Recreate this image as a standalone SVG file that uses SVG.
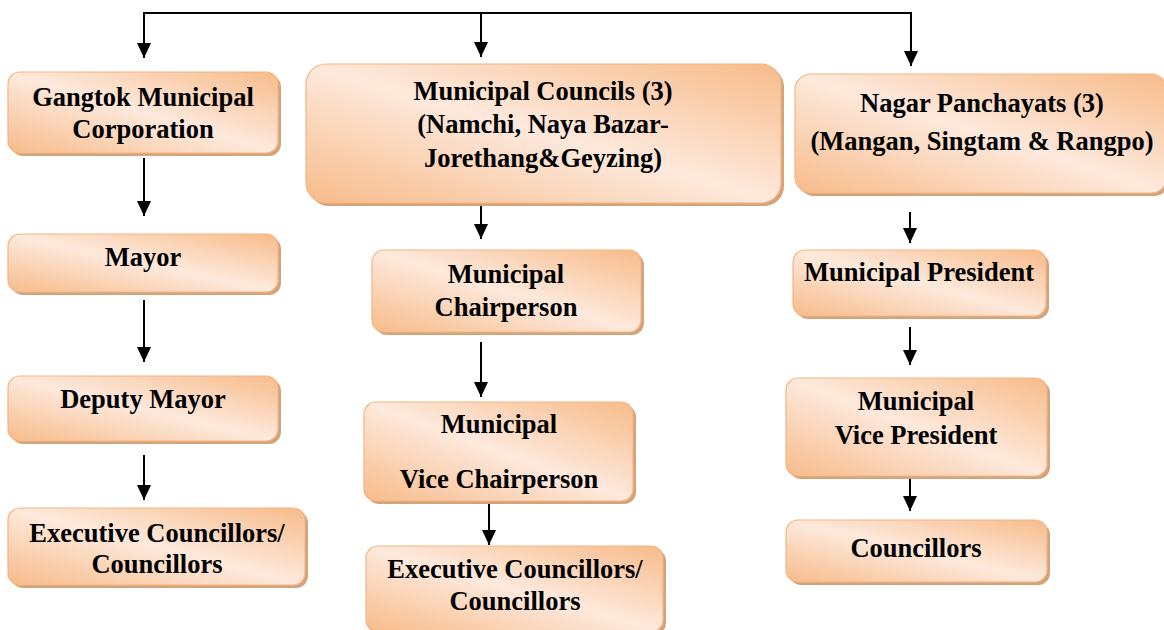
<svg xmlns="http://www.w3.org/2000/svg" width="1164" height="630" viewBox="0 0 1164 630">
<defs>
<linearGradient id="g" x1="0" y1="1" x2="1" y2="0">
<stop offset="0" stop-color="#f7bb8a"/>
<stop offset="0.5" stop-color="#fde9dc"/>
<stop offset="1" stop-color="#f7bb8a"/>
</linearGradient>
<marker id="ah" markerWidth="15" markerHeight="14" refX="15" refY="7" orient="auto-start-reverse" markerUnits="userSpaceOnUse" viewBox="0 0 15 14">
<path d="M0,0 L15,7 L0,14 Z" fill="#000"/>
</marker>
</defs>
<style>
.sh{fill:#d3a47c}
.bx{fill:url(#g);stroke:#f4b584;stroke-width:1.2}
.c{stroke:#000;stroke-width:2;fill:none}
.t{font-family:"Liberation Serif","Times New Roman",serif;font-weight:bold;font-size:26.5px;text-anchor:middle;fill:#000}
</style>
<rect width="1164" height="630" fill="#fff"/>
<g id="connectors">
<path class="c" d="M144,58 V13 H911 V66" marker-start="url(#ah)" marker-end="url(#ah)"/>
<path class="c" d="M481,13 V57" marker-end="url(#ah)"/>
<path class="c" d="M144,158 V216" marker-end="url(#ah)"/>
<path class="c" d="M144,300 V362" marker-end="url(#ah)"/>
<path class="c" d="M144,455 V500" marker-end="url(#ah)"/>
<path class="c" d="M481,203 V239" marker-end="url(#ah)"/>
<path class="c" d="M481,342 V397" marker-end="url(#ah)"/>
<path class="c" d="M489,503 V545" marker-end="url(#ah)"/>
<path class="c" d="M910,212 V243" marker-end="url(#ah)"/>
<path class="c" d="M910,327 V365" marker-end="url(#ah)"/>
<path class="c" d="M910,477 V511" marker-end="url(#ah)"/>
</g>
<g class="t">
<g id="gangtok">
<rect class="sh" x="11" y="75" width="270" height="81" rx="12"/>
<rect class="bx" x="8" y="72" width="270" height="81" rx="12"/>
<text x="143" y="106">Gangtok Municipal</text>
<text x="143" y="138">Corporation</text>
</g>
<g id="mayor">
<rect class="sh" x="11" y="237" width="270" height="58" rx="12"/>
<rect class="bx" x="8" y="234" width="270" height="58" rx="12"/>
<text x="143" y="266">Mayor</text>
</g>
<g id="deputy-mayor">
<rect class="sh" x="11" y="379" width="270" height="65" rx="12"/>
<rect class="bx" x="8" y="376" width="270" height="65" rx="12"/>
<text x="143" y="408">Deputy Mayor</text>
</g>
<g id="exec-left">
<rect class="sh" x="11" y="511" width="297" height="77" rx="12"/>
<rect class="bx" x="8" y="508" width="297" height="77" rx="12"/>
<text x="157" y="542">Executive Councillors/</text>
<text x="157" y="573">Councillors</text>
</g>
<g id="municipal-councils">
<rect class="sh" x="309" y="67" width="475" height="139" rx="20"/>
<rect class="bx" x="306" y="64" width="475" height="139" rx="20"/>
<text x="543" y="100">Municipal Councils (3)</text>
<text x="543" y="133">(Namchi, Naya Bazar-</text>
<text x="543" y="167">Jorethang&amp;Geyzing)</text>
</g>
<g id="chairperson">
<rect class="sh" x="375" y="253" width="269" height="82" rx="12"/>
<rect class="bx" x="372" y="250" width="269" height="82" rx="12"/>
<text x="506" y="283">Municipal</text>
<text x="506" y="316">Chairperson</text>
</g>
<g id="vice-chairperson">
<rect class="sh" x="367" y="405" width="269" height="99" rx="12"/>
<rect class="bx" x="364" y="402" width="269" height="99" rx="12"/>
<text x="499" y="433">Municipal</text>
<text x="499" y="488">Vice Chairperson</text>
</g>
<g id="exec-middle">
<rect class="sh" x="369" y="549" width="297" height="86" rx="12"/>
<rect class="bx" x="366" y="546" width="297" height="86" rx="12"/>
<text x="515" y="578">Executive Councillors/</text>
<text x="515" y="610">Councillors</text>
</g>
<g id="nagar-panchayats">
<rect class="sh" x="798" y="77" width="372" height="119" rx="16"/>
<rect class="bx" x="795" y="74" width="372" height="119" rx="16"/>
<text x="982" y="112">Nagar Panchayats (3)</text>
<text x="982" y="150">(Mangan, Singtam &amp; Rangpo)</text>
</g>
<g id="president">
<rect class="sh" x="796" y="253" width="253" height="66" rx="12"/>
<rect class="bx" x="793" y="250" width="253" height="66" rx="12"/>
<text x="919" y="281">Municipal President</text>
</g>
<g id="vice-president">
<rect class="sh" x="789" y="381" width="261" height="98" rx="12"/>
<rect class="bx" x="786" y="378" width="261" height="98" rx="12"/>
<text x="916" y="410">Municipal</text>
<text x="916" y="444">Vice President</text>
</g>
<g id="councillors">
<rect class="sh" x="789" y="523" width="261" height="62" rx="12"/>
<rect class="bx" x="786" y="520" width="261" height="62" rx="12"/>
<text x="916" y="557">Councillors</text>
</g>
</g>
</svg>
